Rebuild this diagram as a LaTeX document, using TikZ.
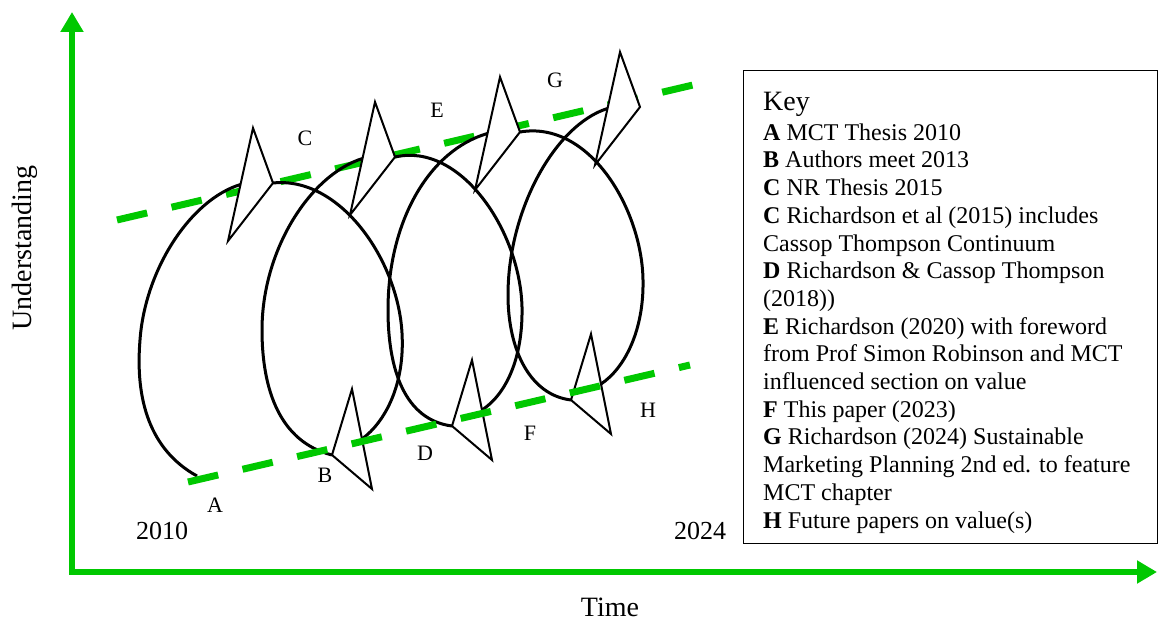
\documentclass[tikz,border=0pt]{standalone}
\usepackage{fontspec}
\setmainfont{Liberation Serif}
\usetikzlibrary{arrows.meta}
\definecolor{trendgreen}{RGB}{0,200,0}
\tikzset{
  loopline/.style={line width=3pt},
  headtri/.style={line width=2pt, fill=white, line join=miter},
  trend/.style={trendgreen, line width=7pt, dash pattern=on 31pt off 25pt},
  axis/.style={trendgreen, line width=6pt, {Triangle[width=22pt,length=20pt]}-{Triangle[width=22pt,length=20pt]}},
  lbl/.style={font=\fontsize{22}{26}\selectfont, inner sep=0pt},
  yr/.style={font=\fontsize{26}{30}\selectfont, inner sep=0pt},
  axlbl/.style={font=\fontsize{28}{32}\selectfont, inner sep=0pt},
  keybox/.style={draw, line width=1pt, minimum width=414pt, minimum height=473pt, inner sep=0pt},
  keytext/.style={align=left, inner sep=0pt, font=\fontsize{24}{27.7}\selectfont}
}

\begin{document}
\begin{tikzpicture}[x=1pt, y=-1pt]
  \useasboundingbox (0,0) rectangle (1158,620);

  \coordinate (ytip) at (72,12);
  \coordinate (xtip) at (1157,572);
  \draw[axis] (ytip) |- (xtip);

  \draw (25,248) node[axlbl, rotate=90] (understanding) {Understanding};
  \draw (610,607) node[axlbl] (time) {Time};
  \draw (162,531) node[yr] (y2010) {2010};
  \draw (700,531) node[yr] (y2024) {2024};

  \draw (215,505) node[lbl] (A) {A};
  \draw (325,475) node[lbl] (B) {B};
  \draw (305,138) node[lbl] (C) {C};
  \draw (425,453) node[lbl] (D) {D};
  \draw (437,110) node[lbl] (E) {E};
  \draw (530,433) node[lbl] (F) {F};
  \draw (555,80) node[lbl] (G) {G};
  \draw (648,410) node[lbl] (H) {H};

  \coordinate (u1) at (117,220);
  \coordinate (u2) at (693,85);
  \coordinate (d1) at (188,482);
  \coordinate (d2) at (690,365);
  \draw[trend] (u1) -- (u2);

  % heads at the top
  \path (253,128) coordinate (t1) -- coordinate (m1) ++(-25,113) coordinate (s1) -- ++(45,-58) coordinate (r1);
  \path (375,102) coordinate (t2) -- coordinate (m2) ++(-25,113) coordinate (s2) -- ++(45,-58) coordinate (r2);
  \path (500,77) coordinate (t3) -- coordinate (m3) ++(-25,113) coordinate (s3) -- ++(45,-58) coordinate (r3);
  \path (620,52) coordinate (t4) -- coordinate (m4) ++(-25,113) coordinate (s4) -- ++(45,-58) coordinate (r4);
  % heads at the bottom
  \path (352,389) coordinate (b1) -- coordinate (n1) ++(20,100) coordinate (e1) -- ++(-40,-34) coordinate (l1);
  \path (472,360) coordinate (b2) -- coordinate (n2) ++(20,100) coordinate (e2) -- ++(-40,-34) coordinate (l2);
  \path (591,334) coordinate (b3) -- coordinate (n3) ++(20,100) coordinate (e3) -- ++(-40,-34) coordinate (l3);

  \coordinate (start) at (197,476);
  \draw[loopline] (start) .. controls (150,450) and (135,400) .. (140,340) .. controls (145,270) and (190,200) .. (m1);
  \draw[loopline] (r1) .. controls (340,176) and (398,260) .. (402,333) .. controls (405,385) and (385,422) .. (n1);
  \draw[loopline] (l1) .. controls (280,442) and (262,390) .. (262,330) .. controls (262,250) and (310,175) .. (m2);
  \draw[loopline] (r2) .. controls (460,142) and (520,230) .. (522,307) .. controls (523,360) and (505,395) .. (n2);
  \draw[loopline] (l2) .. controls (405,420) and (388,370) .. (388,310) .. controls (388,220) and (430,150) .. (m3);
  \draw[loopline] (r3) .. controls (590,120) and (642,210) .. (643,280) .. controls (644,330) and (625,368) .. (n3);
  \draw[loopline] (l3) .. controls (530,395) and (508,350) .. (508,295) .. controls (508,210) and (555,125) .. (m4);

  \draw[headtri] (t1) -- (s1) -- (r1) -- cycle;
  \draw[headtri] (t2) -- (s2) -- (r2) -- cycle;
  \draw[headtri] (t3) -- (s3) -- (r3) -- cycle;
  \draw[headtri] (t4) -- (s4) -- (r4) -- cycle;
  \draw[headtri] (b1) -- (e1) -- (l1) -- cycle;
  \draw[headtri] (b2) -- (e2) -- (l2) -- cycle;
  \draw[headtri] (b3) -- (e3) -- (l3) -- cycle;

  \draw[trend] (d1) -- (d2);

  \draw (743,70) node[keybox, anchor=north west] (keyframe) {};
  \draw (763,528) node[keytext, anchor=base west] (keylist) {{\fontsize{28}{30}\selectfont Key}\\[2.3pt]
    \textbf{A} MCT Thesis 2010\\
    \textbf{B} Authors meet 2013\\
    \textbf{C} NR Thesis 2015\\
    \textbf{C} Richardson et al (2015) includes\\
    Cassop Thompson Continuum\\
    \textbf{D} Richardson \& Cassop Thompson\\
    (2018))\\
    \textbf{E} Richardson (2020) with foreword\\
    from Prof Simon Robinson and MCT\\
    influenced section on value\\
    \textbf{F} This paper (2023)\\
    \textbf{G} Richardson (2024) Sustainable\\
    Marketing Planning 2nd ed. to feature\\
    MCT chapter\\
    \textbf{H} Future papers on value(s)};
\end{tikzpicture}
\end{document}
